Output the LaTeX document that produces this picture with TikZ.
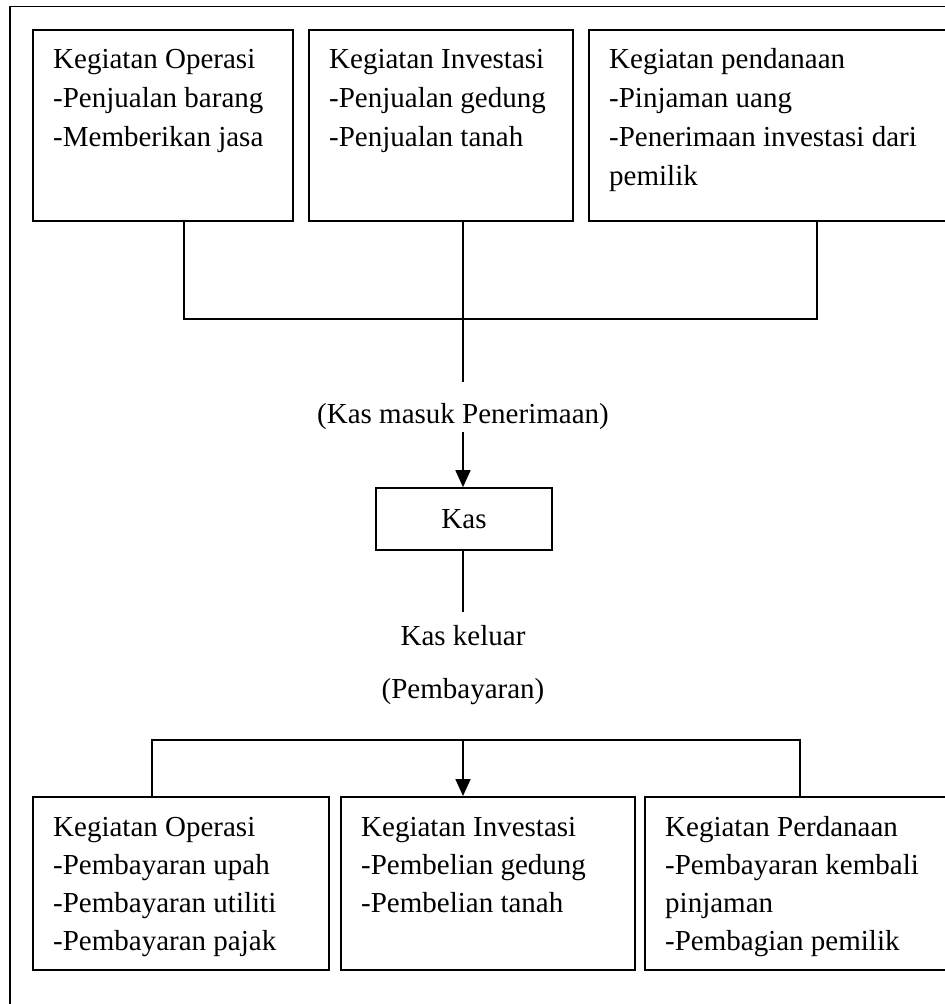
\documentclass[tikz,border=0pt]{standalone}
\usepackage{fontspec}
\setmainfont{Liberation Serif}
\usetikzlibrary{arrows.meta}
\begin{document}
\begin{tikzpicture}[x=1pt,y=-1pt,
  lw/.style={line width=1.7pt},
  box/.style={draw,lw,inner sep=0pt,anchor=north west},
  txt/.style={inner sep=0pt,anchor=north west,align=left,font=\fontsize{29}{39}\selectfont},
  txtb/.style={inner sep=0pt,anchor=north west,align=left,font=\fontsize{29}{38}\selectfont},
  lbl/.style={inner sep=0pt,anchor=base,font=\fontsize{29}{39}\selectfont},
  conn/.style={lw},
  arr/.style={lw,-{Triangle[length=17pt,width=15pt]}}]
\useasboundingbox (0,0) rectangle (945,1004);
\clip (0,0) rectangle (945,1004);
% outer frame
\draw[lw] (10,6.5) rectangle (960,1030);
% top row boxes
\node[box,minimum width=260pt,minimum height=191pt] (o1) at (32,29) {};
\node[box,minimum width=264pt,minimum height=191pt] (o2) at (308,29) {};
\node[box,minimum width=380pt,minimum height=191pt] (o3) at (588,29) {};
\node[txt] (t1) at (53,48) {\rule{0pt}{20pt}Kegiatan Operasi\\-Penjualan barang\\-Memberikan jasa};
\node[txt] (t2) at (329,48) {\rule{0pt}{20pt}Kegiatan Investasi\\-Penjualan gedung\\-Penjualan tanah};
\node[txt] (t3) at (609,48) {\rule{0pt}{20pt}Kegiatan pendanaan\\-Pinjaman uang\\-Penerimaan investasi dari\\pemilik};
% top connectors
\coordinate (j1) at (184,319);
\coordinate (j3) at (817,319);
\coordinate (m1) at (463,382);
\coordinate (m2) at (463,432);
\draw[conn] (o1.south -| j1) -- (j1) -- (j3) -- (o3.south -| j3);
\draw[conn] (o2.south -| m1) -- (m1);
\node[lbl] (lin) at (463,423) {(Kas masuk Penerimaan)};
% Kas
\node[draw,lw,inner sep=0pt,minimum width=176pt,minimum height=62pt,font=\fontsize{29}{39}\selectfont] (kas) at (464,519) {Kas};
\draw[arr] (m2) -- (kas.north -| m2);
\coordinate (k1) at (463,612);
\draw[conn] (kas.south -| k1) -- (k1);
\node[lbl] (lout1) at (463,645) {Kas keluar};
\node[lbl] (lout2) at (463,698) {(Pembayaran)};
% bottom row boxes
\node[box,minimum width=296pt,minimum height=173pt] (b1) at (32,796) {};
\node[box,minimum width=294pt,minimum height=173pt] (b2) at (340,796) {};
\node[box,minimum width=330pt,minimum height=173pt] (b3) at (644,796) {};
\node[txtb] (s1) at (53,816) {\rule{0pt}{20pt}Kegiatan Operasi\\-Pembayaran upah\\-Pembayaran utiliti\\-Pembayaran pajak};
\node[txtb] (s2) at (361,816) {\rule{0pt}{20pt}Kegiatan Investasi\\-Pembelian gedung\\-Pembelian tanah};
\node[txtb] (s3) at (665,816) {\rule{0pt}{20pt}Kegiatan Perdanaan\\-Pembayaran kembali\\pinjaman\\-Pembagian pemilik};
% bottom connectors
\coordinate (l1) at (152,740);
\coordinate (l3) at (800,740);
\coordinate (lm) at (463,740);
\draw[conn] (b1.north -| l1) -- (l1) -- (l3) -- (b3.north -| l3);
\draw[arr] (lm) -- (b2.north -| lm);
\end{tikzpicture}
\end{document}
